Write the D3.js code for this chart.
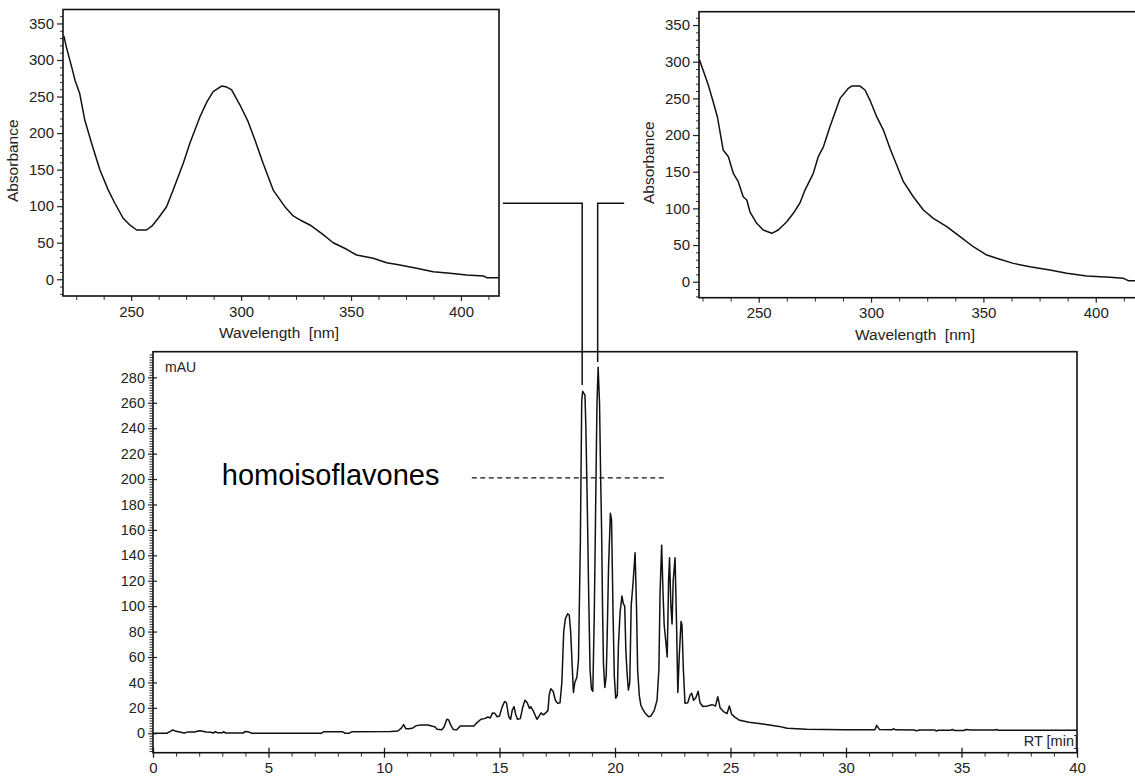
<!DOCTYPE html>
<html>
<head>
<meta charset="utf-8">
<script src="https://cdn.jsdelivr.net/npm/d3@7"></script>
<style>
  html, body { margin: 0; padding: 0; background: #fff; }
  svg { display: block; }
  text { font-family: "Liberation Sans", Arial, sans-serif; }
</style>
</head>
<body>
<svg id="chart" width="1135" height="776"></svg>
<script>
// ---------------- DATA ----------------
// Chromatogram: retention time [min], absorbance [mAU]
const chromRT = [0,0.6,0.75,0.85,1.0,1.2,1.35,1.5,1.8,2.0,2.1,2.3,2.5,2.6,2.7,2.8,3.0,3.05,3.15,3.9,4.0,4.15,4.25,7.3,7.4,8.2,8.3,8.5,8.6,10.3,10.6,10.75,10.85,10.95,11.1,11.25,11.4,11.6,11.9,12.1,12.2,12.3,12.5,12.6,12.72,12.8,12.9,13.0,13.15,13.3,13.6,13.9,14.0,14.2,14.35,14.5,14.6,14.7,14.8,14.9,15.0,15.1,15.22,15.3,15.4,15.48,15.55,15.63,15.7,15.78,15.9,16.0,16.1,16.2,16.3,16.35,16.45,16.55,16.62,16.7,16.8,16.9,17.0,17.1,17.15,17.22,17.32,17.42,17.52,17.62,17.7,17.78,17.85,17.95,18.02,18.08,18.15,18.2,18.26,18.35,18.42,18.5,18.56,18.6,18.7,18.74,18.8,18.86,18.92,18.98,19.04,19.1,19.15,19.22,19.27,19.33,19.38,19.42,19.46,19.5,19.56,19.62,19.66,19.72,19.8,19.85,19.92,19.97,20.03,20.1,20.15,20.22,20.3,20.36,20.42,20.47,20.52,20.58,20.64,20.7,20.78,20.87,20.93,20.98,21.05,21.12,21.2,21.3,21.45,21.55,21.7,21.82,21.9,21.95,22.02,22.08,22.13,22.2,22.26,22.32,22.36,22.42,22.47,22.52,22.6,22.66,22.72,22.78,22.86,22.9,22.96,23.03,23.15,23.25,23.32,23.4,23.5,23.6,23.68,23.8,24.0,24.2,24.35,24.45,24.55,24.7,24.85,24.95,25.05,25.2,25.4,25.8,26.4,27.1,27.45,28.3,29.9,31.25,31.33,31.45,32.0,32.05,32.15,32.95,33.05,33.2,33.85,33.9,34.0,34.55,34.6,34.7,35.1,35.2,35.4,36.45,36.5,36.6,40];
const chromMAU = [0,0,1.5,2.6,1.5,0.8,0.2,0.9,1.0,2.0,1.8,1.0,0.8,0.2,1.2,0.3,0.3,1.2,0.2,0.2,1.4,1.0,0.1,0.1,1.2,1.2,0.1,0.1,1.1,1.3,1.8,4,6.8,3.5,3.6,4.2,6,6.5,6.5,5.5,5.2,3.2,2.8,5,11,10.5,6,3,2.8,5.7,5.8,5.8,8,11,11.5,12.8,12,16,15.7,13,13.5,20,25,24,13,11,18,21,15,11,11.5,20,26,24,19.5,21,18,14,11,13,16,14.5,16,18,30,35,33,26,23.5,24,40,80,90,94,93,80,52,32,40,44,58,150,262,269,266,240,180,110,50,35,33,90,160,260,288,260,200,160,100,55,36,45,75,130,173,168,90,45,27.5,30,70,95,108,102,100,65,48,34,40,100,118,142,100,50,30,22,19,16,13,13.5,18,26,50,110,148,110,85,72,60,120,138,100,86,120,138,90,32,60,88,85,50,23.6,24,30,31.5,26,28,33,24,21,21.5,22.5,21.5,28.8,20,17,15.5,21.5,15,12.5,10.2,8.6,7.3,5.4,3.9,3.1,2.8,2.8,6.2,2.9,2.7,3.6,2.7,2.6,1.9,2.5,2.5,1.8,2.4,2.4,3.0,2.2,2.2,3.0,2.6,2.5,3.0,2.4,2.4];

// UV spectrum of peak 1 (left panel): wavelength [nm], absorbance
const spec1NM = [219.4,220.5,222.9,224.5,226.6,228.9,232,235.8,239.6,242.6,246.4,249.5,252.5,257,259.5,262.3,266.1,269.1,273.7,276.7,281.3,284.5,287.3,291.1,293.5,295.7,299.5,303.2,306.3,310,314.6,319.9,323.7,327.5,331.3,336.6,341.9,348,352.5,356,360.1,366.2,372.2,379.8,387.4,395,402.6,410.2,411.7,418];
const spec1ABS = [333,318,291,272,254,218,186,149.5,122,104,83.4,74,67.4,67.4,73,83.4,99.3,122,158.7,186,222.4,243,256.6,264.4,263,259,238.4,215.6,190.6,158.7,122,99.3,86.6,80,74.3,62.9,50,41,33.2,31,28.7,22.7,19.6,15,10.4,8.2,5.9,4.5,2.2,2.2];

// UV spectrum of peak 2 (right panel)
const spec2NM = [223.6,227.6,229.5,231.6,234.2,236.5,238.7,240.9,243.1,244.7,246.1,249.1,252,255.8,258.7,262.5,265.4,268.4,270.6,274.3,276.5,278.8,281.7,286.2,289.9,291.4,295.1,297.3,299.5,302.5,305.5,308.4,311.4,314.4,318.8,323.3,327.7,333.7,339.6,345.5,351.5,355.9,363.3,370.7,379.6,387.1,396,406.3,412.3,414.5,419];
const spec2ABS = [303,268,247.7,225,179.6,170.5,147.8,136.4,115.9,111.4,95.4,79.6,70.5,66,70.5,81.8,93.3,107.7,125,147.8,170.5,184,211.3,250,263.7,266.8,266.8,261.4,247.7,225,206.8,181.9,159.1,136.4,115.9,97.8,86.4,75,61.4,47.7,36.4,31.9,25,20.5,16,11.4,7.8,6,4.6,1.4,1.4];

// Tick values / labels
const specXTicks = [250, 300, 350, 400];
const specYTicks = [0, 50, 100, 150, 200, 250, 300, 350];
const mainXTicks = [0, 5, 10, 15, 20, 25, 30, 35, 40];
const mainYTicks = [0, 20, 40, 60, 80, 100, 120, 140, 160, 180, 200, 220, 240, 260, 280];

// Annotations
const annotationText = "homoisoflavones";
const annotationRange = [13.8, 22.25];   // RT span of dashed bracket line
const annotationLevel = 201;             // mAU
const markedPeaksRT = [18.58, 19.25];    // peaks linked to spectra
const markedPeaksEnd = [274, 292];       // mAU where connector lines stop
const connectorLevel = 104;              // absorbance level (left panel scale) of horizontal part

// ---------------- LAYOUT ----------------
const svg = d3.select("#chart");
const FONT = '"Liberation Sans", Arial, sans-serif';
const txtCol = "#222";

const P1 = { l: 63, r: 499, t: 9.5, b: 296, xd: [219, 417.3], yd: [-22.9, 369.1] };
const P2 = { l: 699, r: 1138, t: 11.7, b: 297.7, xd: [223.43, 418.8], yd: [-21.8, 368.2] };
const PM = { l: 153, r: 1077, t: 351.7, b: 752.7, xd: [0, 40], yd: [-15.3, 300.2] };

function drawSpectrum(P, nm, ab, clipId) {
  const x = d3.scaleLinear().domain(P.xd).range([P.l, P.r]);
  const y = d3.scaleLinear().domain(P.yd).range([P.b, P.t]);
  const g = svg.append("g");

  g.append("clipPath").attr("id", clipId).append("rect")
    .attr("x", P.l).attr("y", P.t).attr("width", P.r - P.l).attr("height", P.b - P.t);

  // minor y ticks (every 10)
  const yMinor = d3.range(-20, 361, 10).filter(v => v % 50 !== 0);
  g.append("g").attr("transform", `translate(${P.l},0)`)
    .call(d3.axisLeft(y).tickValues(yMinor).tickSize(3).tickFormat(""))
    .call(s => s.select(".domain").remove())
    .call(s => s.selectAll("line").attr("stroke", "#333").attr("stroke-width", 1));
  // major y ticks
  g.append("g").attr("transform", `translate(${P.l},0)`)
    .call(d3.axisLeft(y).tickValues(specYTicks).tickSize(6).tickPadding(3))
    .call(s => s.select(".domain").remove())
    .call(s => s.selectAll("line").attr("stroke", "#222").attr("stroke-width", 1.2))
    .call(s => s.selectAll("text").attr("font-family", FONT).attr("font-size", 15).attr("fill", txtCol));

  // x ticks every 12.5 nm
  const xMinor = d3.range(225, 420, 12.5).filter(v => v % 50 !== 0);
  g.append("g").attr("transform", `translate(0,${P.b})`)
    .call(d3.axisBottom(x).tickValues(xMinor).tickSize(4).tickFormat(""))
    .call(s => s.select(".domain").remove())
    .call(s => s.selectAll("line").attr("stroke", "#333").attr("stroke-width", 1));
  g.append("g").attr("transform", `translate(0,${P.b})`)
    .call(d3.axisBottom(x).tickValues(specXTicks).tickSize(5).tickPadding(5))
    .call(s => s.select(".domain").remove())
    .call(s => s.selectAll("line").attr("stroke", "#222").attr("stroke-width", 1.2))
    .call(s => s.selectAll("text").attr("font-family", FONT).attr("font-size", 15).attr("fill", txtCol));

  // frame
  g.append("rect").attr("x", P.l).attr("y", P.t).attr("width", P.r - P.l).attr("height", P.b - P.t)
    .attr("fill", "none").attr("stroke", "#111").attr("stroke-width", 1.6);

  // curve
  const pts = nm.map((d, i) => [d, ab[i]]);
  g.append("path").datum(pts)
    .attr("clip-path", `url(#${clipId})`)
    .attr("fill", "none").attr("stroke", "#111").attr("stroke-width", 1.5)
    .attr("stroke-linejoin", "round")
    .attr("d", d3.line().x(d => x(d[0])).y(d => y(d[1])));

  // axis titles
  const cx = (P.l + Math.min(P.r, 1135)) / 2;
  g.append("text").attr("x", (P.l + (P === P2 ? 1135 : P.r)) / 2 - 2).attr("y", P.b + 42)
    .attr("text-anchor", "middle").attr("font-size", 15.5).attr("fill", txtCol)
    .text("Wavelength  [nm]").attr("xml:space", "preserve").style("white-space", "pre");
  g.append("text")
    .attr("transform", `translate(${P.l - 45},${(P.t + P.b) / 2 + 8}) rotate(-90)`)
    .attr("text-anchor", "middle").attr("font-size", 15.5).attr("fill", txtCol)
    .text("Absorbance");
  return { x, y };
}

const s1 = drawSpectrum(P1, spec1NM, spec1ABS, "clip1");
const s2 = drawSpectrum(P2, spec2NM, spec2ABS, "clip2");

// ---------------- MAIN CHROMATOGRAM ----------------
const xM = d3.scaleLinear().domain(PM.xd).range([PM.l, PM.r]);
const yM = d3.scaleLinear().domain(PM.yd).range([PM.b, PM.t]);
const gM = svg.append("g");

gM.append("clipPath").attr("id", "clipM").append("rect")
  .attr("x", PM.l).attr("y", PM.t).attr("width", PM.r - PM.l).attr("height", PM.b - PM.t);

// y minor ticks every 2 mAU
const yMinorM = d3.range(-14, 300, 2).filter(v => v % 20 !== 0);
gM.append("g").attr("transform", `translate(${PM.l},0)`)
  .call(d3.axisLeft(yM).tickValues(yMinorM).tickSize(3.5).tickFormat(""))
  .call(s => s.select(".domain").remove())
  .call(s => s.selectAll("line").attr("stroke", "#333").attr("stroke-width", 1));
gM.append("g").attr("transform", `translate(${PM.l},0)`)
  .call(d3.axisLeft(yM).tickValues(mainYTicks).tickSize(5).tickPadding(3))
  .call(s => s.select(".domain").remove())
  .call(s => s.selectAll("line").attr("stroke", "#222").attr("stroke-width", 1.2))
  .call(s => s.selectAll("text").attr("font-family", FONT).attr("font-size", 14.5).attr("fill", txtCol));
gM.append("g").attr("transform", `translate(${PM.l},0)`)
  .call(d3.axisRight(yM).tickValues(mainYTicks).tickSize(4).tickFormat(""))
  .call(s => s.select(".domain").remove())
  .call(s => s.selectAll("line").attr("stroke", "#222").attr("stroke-width", 1.2));

// x ticks
const xMinorM = d3.range(0, 41, 1).filter(v => v % 5 !== 0);
gM.append("g").attr("transform", `translate(0,${PM.b})`)
  .call(d3.axisBottom(xM).tickValues(xMinorM).tickSize(4).tickFormat(""))
  .call(s => s.select(".domain").remove())
  .call(s => s.selectAll("line").attr("stroke", "#333").attr("stroke-width", 1));
gM.append("g").attr("transform", `translate(0,${PM.b})`)
  .call(d3.axisBottom(xM).tickValues(mainXTicks).tickSize(5).tickPadding(5))
  .call(s => s.select(".domain").remove())
  .call(s => s.selectAll("line").attr("stroke", "#222").attr("stroke-width", 1.3))
  .call(s => s.selectAll("text").attr("font-family", FONT).attr("font-size", 15).attr("fill", txtCol));
gM.append("g").attr("transform", `translate(0,${PM.b})`)
  .call(d3.axisTop(xM).tickValues(mainXTicks).tickSize(5).tickFormat(""))
  .call(s => s.select(".domain").remove())
  .call(s => s.selectAll("line").attr("stroke", "#222").attr("stroke-width", 1.3));

// frame
gM.append("rect").attr("x", PM.l).attr("y", PM.t).attr("width", PM.r - PM.l).attr("height", PM.b - PM.t)
  .attr("fill", "none").attr("stroke", "#111").attr("stroke-width", 1.6);

// labels
gM.append("text").attr("x", PM.l + 12).attr("y", PM.t + 20)
  .attr("font-size", 14).attr("fill", txtCol).text("mAU");
gM.append("text").attr("x", PM.r + 1).attr("y", PM.b - 7)
  .attr("text-anchor", "end").attr("font-size", 14.5).attr("fill", txtCol).text("RT [min]");

// chromatogram trace
const chromPts = chromRT.map((d, i) => [d, chromMAU[i]]);
gM.append("path").datum(chromPts)
  .attr("clip-path", "url(#clipM)")
  .attr("fill", "none").attr("stroke", "#111").attr("stroke-width", 1.5)
  .attr("stroke-linejoin", "round")
  .attr("d", d3.line().x(d => xM(d[0])).y(d => yM(d[1])));

// annotation: dashed line + label
gM.append("line")
  .attr("x1", xM(annotationRange[0])).attr("x2", xM(annotationRange[1]))
  .attr("y1", yM(annotationLevel)).attr("y2", yM(annotationLevel))
  .attr("stroke", "#111").attr("stroke-width", 1.3).attr("stroke-dasharray", "5,3.5");
gM.append("text")
  .attr("x", xM(2.98)).attr("y", yM(195))
  .attr("font-size", 29).attr("fill", "#000").text(annotationText);

// connectors from peaks to spectra
const hy = s1.y(connectorLevel);
const connectors = [
  [[P1.r + 4, hy], [xM(markedPeaksRT[0]), hy], [xM(markedPeaksRT[0]), yM(markedPeaksEnd[0])]],
  [[xM(markedPeaksRT[1]) + 26.5, hy], [xM(markedPeaksRT[1]), hy], [xM(markedPeaksRT[1]), yM(markedPeaksEnd[1])]]
];
svg.append("g").selectAll("path").data(connectors).join("path")
  .attr("fill", "none").attr("stroke", "#111").attr("stroke-width", 1.5)
  .attr("d", d3.line());
</script>
</body>
</html>
